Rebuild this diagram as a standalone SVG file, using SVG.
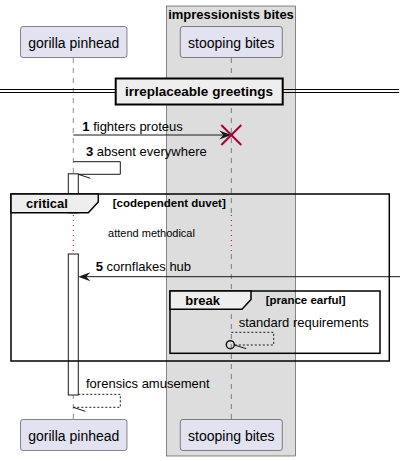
<svg xmlns="http://www.w3.org/2000/svg" width="405" height="461" viewBox="0 0 405 461">
<style>
text{font-family:"Liberation Sans",Arial,sans-serif;fill:#000}
.part rect{fill:#E2E2F0;stroke:#181818;stroke-width:0.5}
.pt{font-size:14px}
.msg{font-size:13px}
.b{font-weight:bold}
.life{stroke:#181818;stroke-width:0.5;stroke-dasharray:5,5;fill:none}
.dot{stroke:#A80036;stroke-width:1;stroke-dasharray:1,4;fill:none}
.act{fill:#FFFFFF;stroke:#181818;stroke-width:1}
.ln{stroke:#181818;stroke-width:1;fill:none}
.dash{stroke:#181818;stroke-width:1;fill:none;stroke-dasharray:2,2}
.frame{fill:none;stroke:#000;stroke-width:1.5}
.tab{fill:#EEEEEE;stroke:#000;stroke-width:1.5}
.guard{font-size:11.5px;font-weight:bold}
</style>
<g id="box-impressionists">
<rect x="166.5" y="6" width="129" height="450" fill="#DDDDDD" stroke="#181818" stroke-width="0.5"/>
<text x="231" y="19" text-anchor="middle" font-size="13" font-weight="bold">impressionists bites</text>
</g>
<g id="lifelines">
<line class="life" x1="73.3" y1="58" x2="73.3" y2="213"/>
<line class="dot" x1="73.3" y1="215" x2="73.3" y2="252"/>
<line class="life" x1="73.3" y1="254" x2="73.3" y2="419"/>
<line class="life" x1="231.3" y1="58" x2="231.3" y2="213"/>
<line class="dot" x1="231.3" y1="215" x2="231.3" y2="252"/>
<line class="life" x1="231.3" y1="254" x2="231.3" y2="419"/>
</g>
<g id="divider">
<line x1="0" y1="89.5" x2="399" y2="89.5" stroke="#000" stroke-width="1"/>
<line x1="0" y1="92.5" x2="399" y2="92.5" stroke="#000" stroke-width="1"/>
<rect x="115.7" y="78.5" width="167" height="26" fill="#EEEEEE" stroke="#000" stroke-width="2"/>
<text x="199" y="96" text-anchor="middle" font-size="13.5" font-weight="bold">irreplaceable greetings</text>
</g>
<g id="activations">
<rect class="act" x="68.3" y="173.8" width="10" height="39"/>
<rect class="act" x="68.3" y="254" width="10" height="141"/>
</g>
<g id="connectors">
<line class="ln" x1="73.3" y1="135" x2="228" y2="135"/>
<polygon points="231.3,135 219.3,130.5 223.3,135 219.3,139.5" fill="#181818"/>
<text class="msg" x="82.3" y="130.7"><tspan class="b">1</tspan> fighters proteus</text>
<polyline class="ln" points="73.3,161.7 120.3,161.7 120.3,174.3 78.3,174.3"/>
<line class="ln" x1="78.3" y1="174.3" x2="90.3" y2="178.3"/>
<text class="msg" x="86" y="155.7"><tspan class="b">3</tspan> absent everywhere</text>
<line class="ln" x1="400" y1="276.7" x2="81" y2="276.7"/>
<polygon points="78.3,276.7 90.3,272.2 86.3,276.7 90.3,281.2" fill="#181818"/>
<text class="msg" x="95.7" y="270.7"><tspan class="b">5</tspan> cornflakes hub</text>
<polyline class="dash" points="231.3,332.3 273.7,332.3 273.7,345 234.3,345"/>
<circle cx="230.3" cy="344.7" r="4" fill="none" stroke="#181818" stroke-width="1.5"/>
<line class="ln" x1="234.3" y1="345" x2="246.3" y2="348.7"/>
<text class="msg" x="238.7" y="326.7">standard requirements</text>
<polyline class="dash" points="78.3,394.3 120.3,394.3 120.3,407.3 73.3,407.3"/>
<line class="ln" x1="73.3" y1="407.3" x2="85.3" y2="411.3"/>
<text class="msg" x="86" y="388.3">forensics amusement</text>
</g>
<g id="destroy">
<line x1="221.3" y1="125" x2="241.3" y2="145" stroke="#A80036" stroke-width="2"/>
<line x1="221.3" y1="145" x2="241.3" y2="125" stroke="#A80036" stroke-width="2"/>
</g>
<g id="delay">
<text x="151.5" y="236.5" text-anchor="middle" font-size="11">attend methodical</text>
</g>
<g id="critical">
<rect class="frame" x="11" y="194" width="378.3" height="167"/>
<polygon class="tab" points="11,194 98.3,194 98.3,202 88.3,212.7 11,212.7"/>
<text x="26" y="208.3" font-size="13" font-weight="bold">critical</text>
<text class="guard" x="112.7" y="206.5">[codependent duvet]</text>
</g>
<g id="break">
<rect class="frame" x="170" y="291" width="210" height="62.3"/>
<polygon class="tab" points="170,291 251,291 251,299.5 242,309.3 170,309.3"/>
<text x="185.3" y="305" font-size="13" font-weight="bold">break</text>
<text class="guard" x="265.7" y="304">[prance earful]</text>
</g>
<g id="p-gorilla-top" class="part">
<rect x="20.5" y="26.5" width="106.5" height="31" rx="2.5"/>
<text class="pt" x="73.8" y="47.5" text-anchor="middle">gorilla pinhead</text>
</g>
<g id="p-stooping-top" class="part">
<rect x="180.3" y="26.5" width="102" height="31" rx="2.5"/>
<text class="pt" x="231.3" y="47.5" text-anchor="middle">stooping bites</text>
</g>
<g id="p-gorilla-bottom" class="part">
<rect x="20.5" y="419.5" width="106.5" height="31" rx="2.5"/>
<text class="pt" x="73.8" y="440.5" text-anchor="middle">gorilla pinhead</text>
</g>
<g id="p-stooping-bottom" class="part">
<rect x="180.3" y="419.5" width="102" height="31" rx="2.5"/>
<text class="pt" x="231.3" y="440.5" text-anchor="middle">stooping bites</text>
</g>
</svg>
